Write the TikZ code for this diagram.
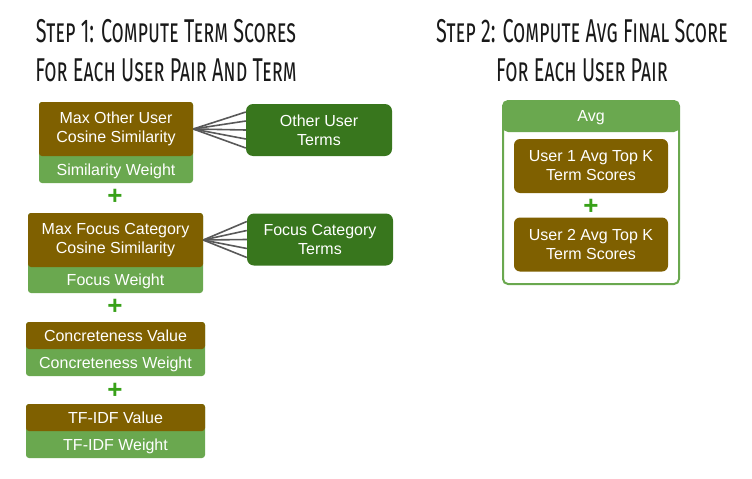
\documentclass[tikz,border=0pt]{standalone}
\usepackage{fontspec}
\setmainfont{Liberation Sans}
\newfontfamily\titlefont[Letters=SmallCaps,FakeStretch=0.6]{Fira Sans}
\usetikzlibrary{positioning, calc}
\definecolor{cardbrown}{HTML}{7F6000}
\definecolor{cardgreen}{HTML}{6AA84F}
\definecolor{termgreen}{HTML}{38761D}
\definecolor{plusgreen}{HTML}{38A119}
\definecolor{fanline}{HTML}{595959}

\begin{document}
\begin{tikzpicture}[x=1pt, y=-1pt,
    cardbase/.style={rectangle, rounded corners=3pt, fill=cardgreen, inner sep=0pt},
    scorebox/.style={rectangle, rounded corners=3pt, fill=cardbrown, text=white, align=center, inner sep=0pt, font=\fontsize{16}{19}\selectfont},
    weightbox/.style={rectangle, text=white, align=center, inner sep=0pt, minimum height=27pt, font=\fontsize{16}{19}\selectfont},
    termbox/.style={rectangle, rounded corners=7pt, fill=termgreen, text=white, align=center, minimum width=146pt, minimum height=52pt, font=\fontsize{16}{19}\selectfont},
    avgbox/.style={rectangle, rounded corners=6pt, fill=cardbrown, text=white, align=center, minimum width=154pt, minimum height=54pt, font=\fontsize{16}{19}\selectfont},
    plus/.style={text=plusgreen, inner sep=0pt, font=\fontsize{26}{26}\selectfont\bfseries},
    steptitle/.style={align=center, text=black!90, inner sep=0pt, font=\titlefont\fontsize{33}{39}\selectfont},
    fan/.style={fanline, line width=1.6pt},
]
\useasboundingbox (0,0) rectangle (752,479);

% Titles
\node[steptitle, anchor=north] (title1) at (166, 19) {Step 1: Compute Term Scores\\For Each User Pair And Term};
\node[steptitle, anchor=north] (title2) at (582, 19) {Step 2: Compute Avg Final Score\\For Each User Pair};

% Step 1 cards
\node[cardbase, minimum width=154pt, minimum height=81pt] (cardA) at (116, 142.5) {};
\node[scorebox, minimum width=154pt, minimum height=54pt, anchor=north] (simA) at (cardA.north) {Max Other User\\Cosine Similarity};
\node[weightbox, anchor=south, yshift=-1.5pt] (wA) at (cardA.south) {Similarity Weight};

\node[plus] (plusA) at (115, 197) {+};

\node[cardbase, minimum width=175pt, minimum height=80pt] (cardB) at (115.5, 253) {};
\node[scorebox, minimum width=175pt, minimum height=54pt, anchor=north] (simB) at (cardB.north) {Max Focus Category\\Cosine Similarity};
\node[weightbox, anchor=south, yshift=-1.5pt] (wB) at (cardB.south) {Focus Weight};

\node[plus] (plusB) at (115, 307) {+};

\node[cardbase, minimum width=179pt, minimum height=54pt] (cardC) at (115.5, 349) {};
\node[scorebox, minimum width=179pt, minimum height=27pt, anchor=north] (valC) at (cardC.north) {Concreteness Value};
\node[weightbox, anchor=south, yshift=-1.5pt] (wC) at (cardC.south) {Concreteness Weight};

\node[plus] (plusC) at (115, 391) {+};

\node[cardbase, minimum width=179pt, minimum height=54pt] (cardD) at (115.5, 431) {};
\node[scorebox, minimum width=179pt, minimum height=27pt, anchor=north] (valD) at (cardD.north) {TF-IDF Value};
\node[weightbox, anchor=south, yshift=-1.5pt] (wD) at (cardD.south) {TF-IDF Weight};

% Term sets
\node[termbox] (otherterms) at (319, 130) {Other User\\Terms};
\node[termbox] (focusterms) at (320, 239.5) {Focus Category\\Terms};

% Fans
\foreach \dy in {-18,-9,0,9,18} {
    \draw[fan] (simA.east) -- ($(otherterms.west)+(0,\dy)$);
    \draw[fan] (simB.east) -- ($(focusterms.west)+(0,\dy)$);
}

% Step 2
\node[rectangle, rounded corners=5pt, draw=cardgreen, line width=2pt, fill=white, minimum width=176pt, minimum height=183pt,
    path picture={\fill[cardgreen] (path picture bounding box.north west) rectangle ([yshift=-31pt]path picture bounding box.north east);}] (avg) at (591, 192.5) {};
\node[weightbox, minimum height=31pt, anchor=north, yshift=-1.5pt] (avghead) at (avg.north) {Avg};
\node[avgbox] (user1) at (591, 166) {User 1 Avg Top K\\Term Scores};
\node[plus] (plusU) at (591, 207) {+};
\node[avgbox] (user2) at (591, 244.5) {User 2 Avg Top K\\Term Scores};

\end{tikzpicture}
\end{document}
